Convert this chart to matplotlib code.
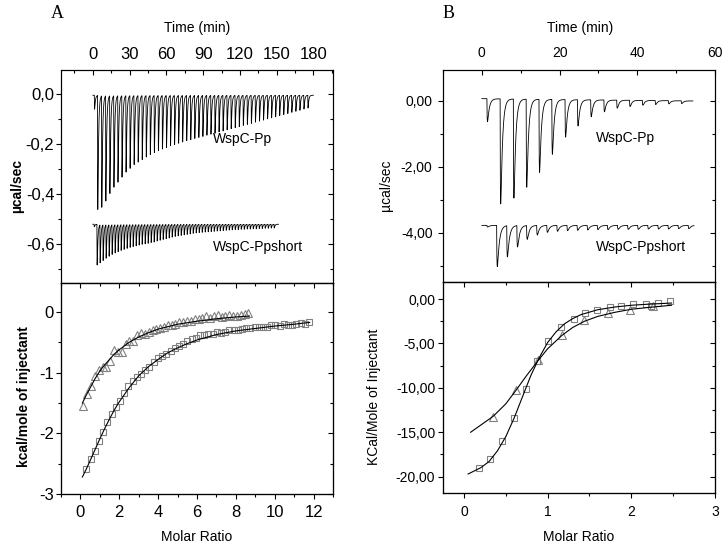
import numpy as np
import matplotlib.pyplot as plt
from matplotlib.ticker import MultipleLocator, FuncFormatter

plt.rcParams['font.family'] = ['Liberation Sans', 'DejaVu Sans']
plt.rcParams['font.size'] = 10

W, H = 728, 546

# ---------------------------------------------------------------
# Panel A, raw heats (thermograms)
a_pp_small = (1.2, -0.06)            # first small injection (time, minimum)
a_pp_first, a_pp_step = 3.8, 3.3     # injection times (min)
a_pp_min = [-0.46, -0.45, -0.425, -0.395, -0.37, -0.35, -0.33, -0.31, -0.295, -0.28,
            -0.27, -0.26, -0.25, -0.24, -0.232, -0.225, -0.218, -0.212, -0.205, -0.20,
            -0.195, -0.19, -0.185, -0.181, -0.176, -0.172, -0.168, -0.163, -0.159, -0.155,
            -0.150, -0.146, -0.142, -0.137, -0.133, -0.129, -0.124, -0.120, -0.116, -0.111,
            -0.107, -0.103, -0.098, -0.094, -0.090, -0.085, -0.081, -0.077, -0.072, -0.068,
            -0.064, -0.059, -0.055]
a_pp_base = -0.004
a_pp_end = 180

a_short_first, a_short_step = 3.3, 2.45
a_short_min = [-0.683, -0.672, -0.663, -0.654, -0.646, -0.639, -0.633, -0.628, -0.623, -0.619,
               -0.615, -0.611, -0.608, -0.605, -0.602, -0.599, -0.597, -0.595, -0.592, -0.590,
               -0.586, -0.583, -0.580, -0.577, -0.574, -0.571, -0.568, -0.566, -0.564, -0.562,
               -0.560, -0.558, -0.556, -0.554, -0.553, -0.552, -0.551, -0.550, -0.549, -0.548,
               -0.547, -0.546, -0.545, -0.544, -0.543, -0.542, -0.541, -0.541, -0.540, -0.540,
               -0.539, -0.539, -0.538, -0.538, -0.537, -0.537, -0.536, -0.536, -0.535, -0.535]
a_short_base = -0.52
a_short_end = 151.5

# Panel A, integrated heats
a_sq_x = [0.31, 0.53, 0.74, 0.96, 1.18, 1.39, 1.61, 1.82, 2.04, 2.26,
          2.47, 2.69, 2.91, 3.12, 3.34, 3.55, 3.77, 3.99, 4.20, 4.42,
          4.64, 4.85, 5.07, 5.28, 5.50, 5.72, 5.93, 6.15, 6.37, 6.58,
          6.80, 7.01, 7.23, 7.45, 7.66, 7.88, 8.10, 8.31, 8.53, 8.74,
          8.96, 9.18, 9.39, 9.61, 9.83, 10.04, 10.26, 10.47, 10.69, 10.91,
          11.12, 11.34, 11.56, 11.78]
a_sq_y = [-2.58, -2.43, -2.29, -2.13, -1.97, -1.82, -1.68, -1.56, -1.46, -1.33,
          -1.22, -1.14, -1.07, -1.02, -0.95, -0.90, -0.82, -0.76, -0.73, -0.69,
          -0.64, -0.59, -0.56, -0.52, -0.48, -0.45, -0.42, -0.38, -0.38, -0.36,
          -0.36, -0.33, -0.34, -0.32, -0.30, -0.30, -0.29, -0.28, -0.27, -0.27,
          -0.25, -0.24, -0.24, -0.25, -0.22, -0.21, -0.23, -0.20, -0.21, -0.21,
          -0.19, -0.18, -0.20, -0.16]
a_sq_fit_x = [0.1, 0.3, 0.5, 0.75, 1.0, 1.25, 1.5, 1.75, 2.0, 2.5, 3.0, 3.5, 4.0,
              4.5, 5.0, 5.5, 6.0, 7.0, 8.0, 9.0, 10.0, 11.0, 11.8]
a_sq_fit_y = [-2.72, -2.59, -2.45, -2.27, -2.09, -1.92, -1.76, -1.61, -1.48, -1.25, -1.05,
              -0.90, -0.78, -0.67, -0.59, -0.52, -0.46, -0.37, -0.31, -0.27, -0.23, -0.20, -0.17]

a_tr_x = [0.15, 0.35, 0.55, 0.74, 0.94, 1.14, 1.34, 1.53, 1.73, 1.93,
          2.13, 2.32, 2.52, 2.72, 2.92, 3.12, 3.31, 3.51, 3.71, 3.91,
          4.10, 4.30, 4.50, 4.70, 4.89, 5.09, 5.29, 5.49, 5.69, 5.88,
          6.08, 6.28, 6.48, 6.67, 6.87, 7.07, 7.27, 7.46, 7.66, 7.86,
          8.06, 8.26, 8.45, 8.65]
a_tr_y = [-1.55, -1.35, -1.22, -1.05, -0.95, -0.91, -0.90, -0.80, -0.62, -0.66,
          -0.65, -0.52, -0.47, -0.48, -0.38, -0.34, -0.36, -0.33, -0.30, -0.28,
          -0.27, -0.24, -0.22, -0.21, -0.19, -0.16, -0.16, -0.15, -0.14, -0.12,
          -0.11, -0.10, -0.07, -0.09, -0.06, -0.05, -0.08, -0.06, -0.05, -0.07,
          -0.06, -0.05, -0.03, -0.02]
a_tr_fit_x = [0.1, 0.3, 0.5, 0.75, 1.0, 1.25, 1.5, 1.75, 2.0, 2.5, 3.0, 3.5, 4.0,
              4.5, 5.0, 6.0, 7.0, 8.0, 8.7]
a_tr_fit_y = [-1.50, -1.37, -1.25, -1.10, -0.97, -0.87, -0.78, -0.69, -0.62, -0.50, -0.41,
              -0.34, -0.28, -0.24, -0.20, -0.15, -0.11, -0.08, -0.065]

# ---------------------------------------------------------------
# Panel B, raw heats
b_pp_t = [1.3, 4.7, 8.1, 11.4, 14.7, 18.0, 21.4, 24.6, 28.0, 31.4, 34.7, 38.0, 41.3, 44.6, 48.0, 51.3]
b_pp_min = [-0.63, -3.13, -2.95, -2.62, -2.17, -1.62, -1.10, -0.76, -0.48, -0.33,
            -0.22, -0.17, -0.13, -0.11, -0.09, -0.08]
b_pp_base = (0.07, 0.0)    # baseline at start / end
b_pp_end = 54.3

b_short_t = [1.3, 3.8, 6.4, 9.0, 11.5, 14.1, 16.7, 19.3, 21.9, 24.5, 27.1, 29.7,
             32.3, 34.9, 37.5, 40.1, 42.7, 45.3, 47.9, 50.5, 53.1]
b_short_min = [-3.83, -5.03, -4.73, -4.43, -4.20, -4.07, -3.99, -3.96, -3.94, -3.93, -3.92,
               -3.91, -3.91, -3.90, -3.90, -3.90, -3.89, -3.89, -3.89, -3.88, -3.88]
b_short_base = (-3.78, -3.78)
b_short_end = 54.6

# Panel B, integrated heats
b_sq_x = [0.18, 0.31, 0.46, 0.60, 0.74, 0.87, 1.01, 1.16, 1.31, 1.45, 1.59, 1.75, 1.88,
          2.02, 2.18, 2.24, 2.32, 2.46]
b_sq_y = [-18.98, -18.0, -15.94, -13.38, -10.11, -6.95, -4.77, -3.2, -2.26, -1.62, -1.2,
          -0.9, -0.83, -0.56, -0.53, -0.83, -0.45, -0.26]
b_sq_fit_x = [0.05, 0.2, 0.3, 0.4, 0.5, 0.6, 0.7, 0.8, 0.9, 1.0, 1.1, 1.2, 1.3, 1.4,
              1.6, 1.8, 2.0, 2.2, 2.48]
b_sq_fit_y = [-19.7, -19.0, -18.3, -17.1, -15.5, -13.4, -11.0, -8.6, -6.6, -4.9, -3.7,
              -2.8, -2.2, -1.75, -1.2, -0.9, -0.7, -0.58, -0.45]

b_tr_x = [0.35, 0.62, 0.88, 1.17, 1.44, 1.72, 1.99, 2.26]
b_tr_y = [-13.3, -10.2, -6.9, -4.0, -2.4, -1.6, -1.2, -0.8]
b_tr_fit_x = [0.08, 0.2, 0.35, 0.5, 0.62, 0.75, 0.88, 1.0, 1.17, 1.3, 1.44, 1.6, 1.8,
              2.0, 2.2, 2.48]
b_tr_fit_y = [-15.0, -14.2, -13.2, -11.8, -10.3, -8.6, -7.0, -5.6, -4.1, -3.2, -2.5,
              -1.95, -1.5, -1.15, -0.95, -0.7]


# ---------------------------------------------------------------
def spikes(t_end, times, minima, base, rise, decay):
    """Baseline plus one sharp dip (fast drop, exponential recovery) per injection."""
    t = np.arange(0, t_end, 0.01)
    b0, b1 = base
    y = b0 + (b1 - b0) * t / t_end
    xs = np.arange(0, 10 * decay, 0.001)
    peak = ((1 - np.exp(-xs / rise)) * np.exp(-xs / decay)).max()
    for ti, mi in zip(times, minima):
        amp = (b0 + (b1 - b0) * ti / t_end) - mi
        x = t - ti
        m = x > 0
        y[m] -= amp * (1 - np.exp(-x[m] / rise)) * np.exp(-x[m] / decay) / peak
    return t, y


def fmt(dec):
    def f(v, pos):
        v = round(v, 6) + 0.0
        return f"{v:.{dec}f}".replace('.', ',')
    return FuncFormatter(f)


def ticks(axis, maj, mnr):
    axis.set_major_locator(MultipleLocator(maj))
    axis.set_minor_locator(MultipleLocator(mnr))


def mirror(ax, side, maj, mnr, lim):
    if side == 'right':
        t = ax.twinx()
        t.set_ylim(lim)
        ticks(t.yaxis, maj, mnr)
    else:
        t = ax.twiny()
        t.set_xlim(lim)
        ticks(t.xaxis, maj, mnr)
    t.tick_params(which='both', direction='in', labelright=False, labeltop=False, width=0.8)
    t.tick_params(which='major', length=3.5)
    t.tick_params(which='minor', length=2)
    return t


def box(x0, y0, x1, y1):
    return [x0 / W, 1 - y1 / H, (x1 - x0) / W, (y1 - y0) / H]


fig = plt.figure(figsize=(W / 100, H / 100), dpi=100)

ax_at = fig.add_axes(box(61, 70, 333, 283))
ax_ab = fig.add_axes(box(61, 283, 333, 494))
ax_bt = fig.add_axes(box(443, 70, 715, 282))
ax_bb = fig.add_axes(box(443, 282, 715, 493))

for ax in (ax_at, ax_ab, ax_bt, ax_bb):
    for s in ax.spines.values():
        s.set_linewidth(0.8)
    ax.tick_params(which='both', width=0.8)
    ax.tick_params(which='major', length=3.5)
    ax.tick_params(which='minor', length=2)

# panel A tick labels are drawn larger than panel B's in the original
for ax in (ax_at, ax_ab):
    ax.tick_params(labelsize=12)

# --- A top
t, y = spikes(a_pp_end, [a_pp_small[0]] + [a_pp_first + a_pp_step * k for k in range(len(a_pp_min))],
              [a_pp_small[1]] + a_pp_min, (a_pp_base, a_pp_base), 0.12, 0.6)
ax_at.plot(t, y, color='black', lw=0.6)
t, y = spikes(a_short_end, [1.0] + [a_short_first + a_short_step * k for k in range(len(a_short_min))],
              [-0.53] + a_short_min, (a_short_base, a_short_base), 0.12, 0.55)
ax_at.plot(t, y, color='black', lw=0.6)
ax_at.text(98, -0.18, 'WspC-Pp', va='center', ha='left')
ax_at.text(98, -0.61, 'WspC-Ppshort', va='center', ha='left')
ax_at.set_xlim(-26, 196)
ax_at.set_ylim(-0.755, 0.097)
ticks(ax_at.xaxis, 30, 15)
ticks(ax_at.yaxis, 0.2, 0.1)
ax_at.xaxis.set_major_formatter(FuncFormatter(lambda v, p: f"{v:.0f}"))
ax_at.yaxis.set_major_formatter(fmt(1))
ax_at.xaxis.tick_top()
ax_at.tick_params(axis='x', which='both', direction='in', pad=6)
ax_at.tick_params(axis='y', which='both', direction='out', pad=1.3)
mirror(ax_at, 'right', 0.2, 0.1, ax_at.get_ylim())

# --- A bottom
ax_ab.plot(a_sq_x, a_sq_y, ls='none', marker='s', ms=5, mfc='none', mec='#808080', mew=0.8)
ax_ab.plot(a_tr_x, a_tr_y, ls='none', marker='^', ms=5.5, mfc='none', mec='#808080', mew=0.8)
ax_ab.plot(a_sq_fit_x, a_sq_fit_y, color='black', lw=0.8)
ax_ab.plot(a_tr_fit_x, a_tr_fit_y, color='black', lw=0.8)
ax_ab.set_xlim(-1, 13)
ax_ab.set_ylim(-3, 0.48)
ticks(ax_ab.xaxis, 2, 1)
ticks(ax_ab.yaxis, 1, 0.5)
ax_ab.xaxis.set_major_formatter(FuncFormatter(lambda v, p: f"{v:.0f}"))
ax_ab.yaxis.set_major_formatter(FuncFormatter(lambda v, p: f"{round(v) + 0:d}"))
ax_ab.tick_params(axis='x', which='both', direction='out', pad=4.5)
ax_ab.tick_params(axis='y', which='both', direction='out', pad=1.5)
mirror(ax_ab, 'right', 1, 0.5, ax_ab.get_ylim())
mirror(ax_ab, 'top', 2, 1, ax_ab.get_xlim())

# --- B top
t, y = spikes(b_pp_end, b_pp_t, b_pp_min, b_pp_base, 0.08, 0.45)
ax_bt.plot(t, y, color='black', lw=0.6)
t, y = spikes(b_short_end, b_short_t, b_short_min, b_short_base, 0.1, 0.5)
ax_bt.plot(t, y, color='black', lw=0.6)
ax_bt.text(29.4, -1.12, 'WspC-Pp', va='center', ha='left')
ax_bt.text(29.4, -4.43, 'WspC-Ppshort', va='center', ha='left')
ax_bt.set_xlim(-10, 60)
ax_bt.set_ylim(-5.5, 0.94)
ticks(ax_bt.xaxis, 20, 10)
ticks(ax_bt.yaxis, 2, 1)
ax_bt.xaxis.set_major_formatter(FuncFormatter(lambda v, p: f"{v:.0f}"))
ax_bt.yaxis.set_major_formatter(fmt(2))
ax_bt.xaxis.tick_top()
ax_bt.tick_params(axis='x', which='both', direction='in', pad=7)
ax_bt.tick_params(axis='y', which='both', direction='out', pad=4)
mirror(ax_bt, 'right', 2, 1, ax_bt.get_ylim())

# --- B bottom
ax_bb.plot(b_sq_x, b_sq_y, ls='none', marker='s', ms=5, mfc='none', mec='#808080', mew=0.8)
ax_bb.plot(b_tr_x, b_tr_y, ls='none', marker='^', ms=5.5, mfc='none', mec='#808080', mew=0.8)
ax_bb.plot(b_sq_fit_x, b_sq_fit_y, color='black', lw=0.8)
ax_bb.plot(b_tr_fit_x, b_tr_fit_y, color='black', lw=0.8)
ax_bb.set_xlim(-0.25, 3)
ax_bb.set_ylim(-21.84, 1.92)
ticks(ax_bb.xaxis, 1, 0.5)
ticks(ax_bb.yaxis, 5, 2.5)
ax_bb.xaxis.set_major_formatter(FuncFormatter(lambda v, p: f"{v:.0f}"))
ax_bb.yaxis.set_major_formatter(fmt(2))
ax_bb.tick_params(axis='x', which='both', direction='out', pad=5)
ax_bb.tick_params(axis='y', which='both', direction='out', pad=2)
mirror(ax_bb, 'right', 5, 2.5, ax_bb.get_ylim())
mirror(ax_bb, 'top', 1, 0.5, ax_bb.get_xlim())

# --- labels
def ftext(x, y, s, **kw):
    fig.text(x / W, 1 - y / H, s, ha='center', va='center', **kw)

ftext(57, 14, 'A', family=['Liberation Serif'], fontsize=13)
ftext(449, 14, 'B', family=['Liberation Serif'], fontsize=13)
ftext(197, 28, 'Time (min)')
ftext(580, 28, 'Time (min)')
ftext(197, 537, 'Molar Ratio')
ftext(579, 537, 'Molar Ratio')
ftext(17, 186, 'µcal/sec', rotation=90, fontweight='bold')
ftext(24, 397, 'kcal/mole of injectant', rotation=90, fontweight='bold')
ftext(386, 185, 'µcal/sec', rotation=90)
ftext(374, 397, 'KCal/Mole of Injectant', rotation=90)

fig.savefig('out.png', dpi=100)
